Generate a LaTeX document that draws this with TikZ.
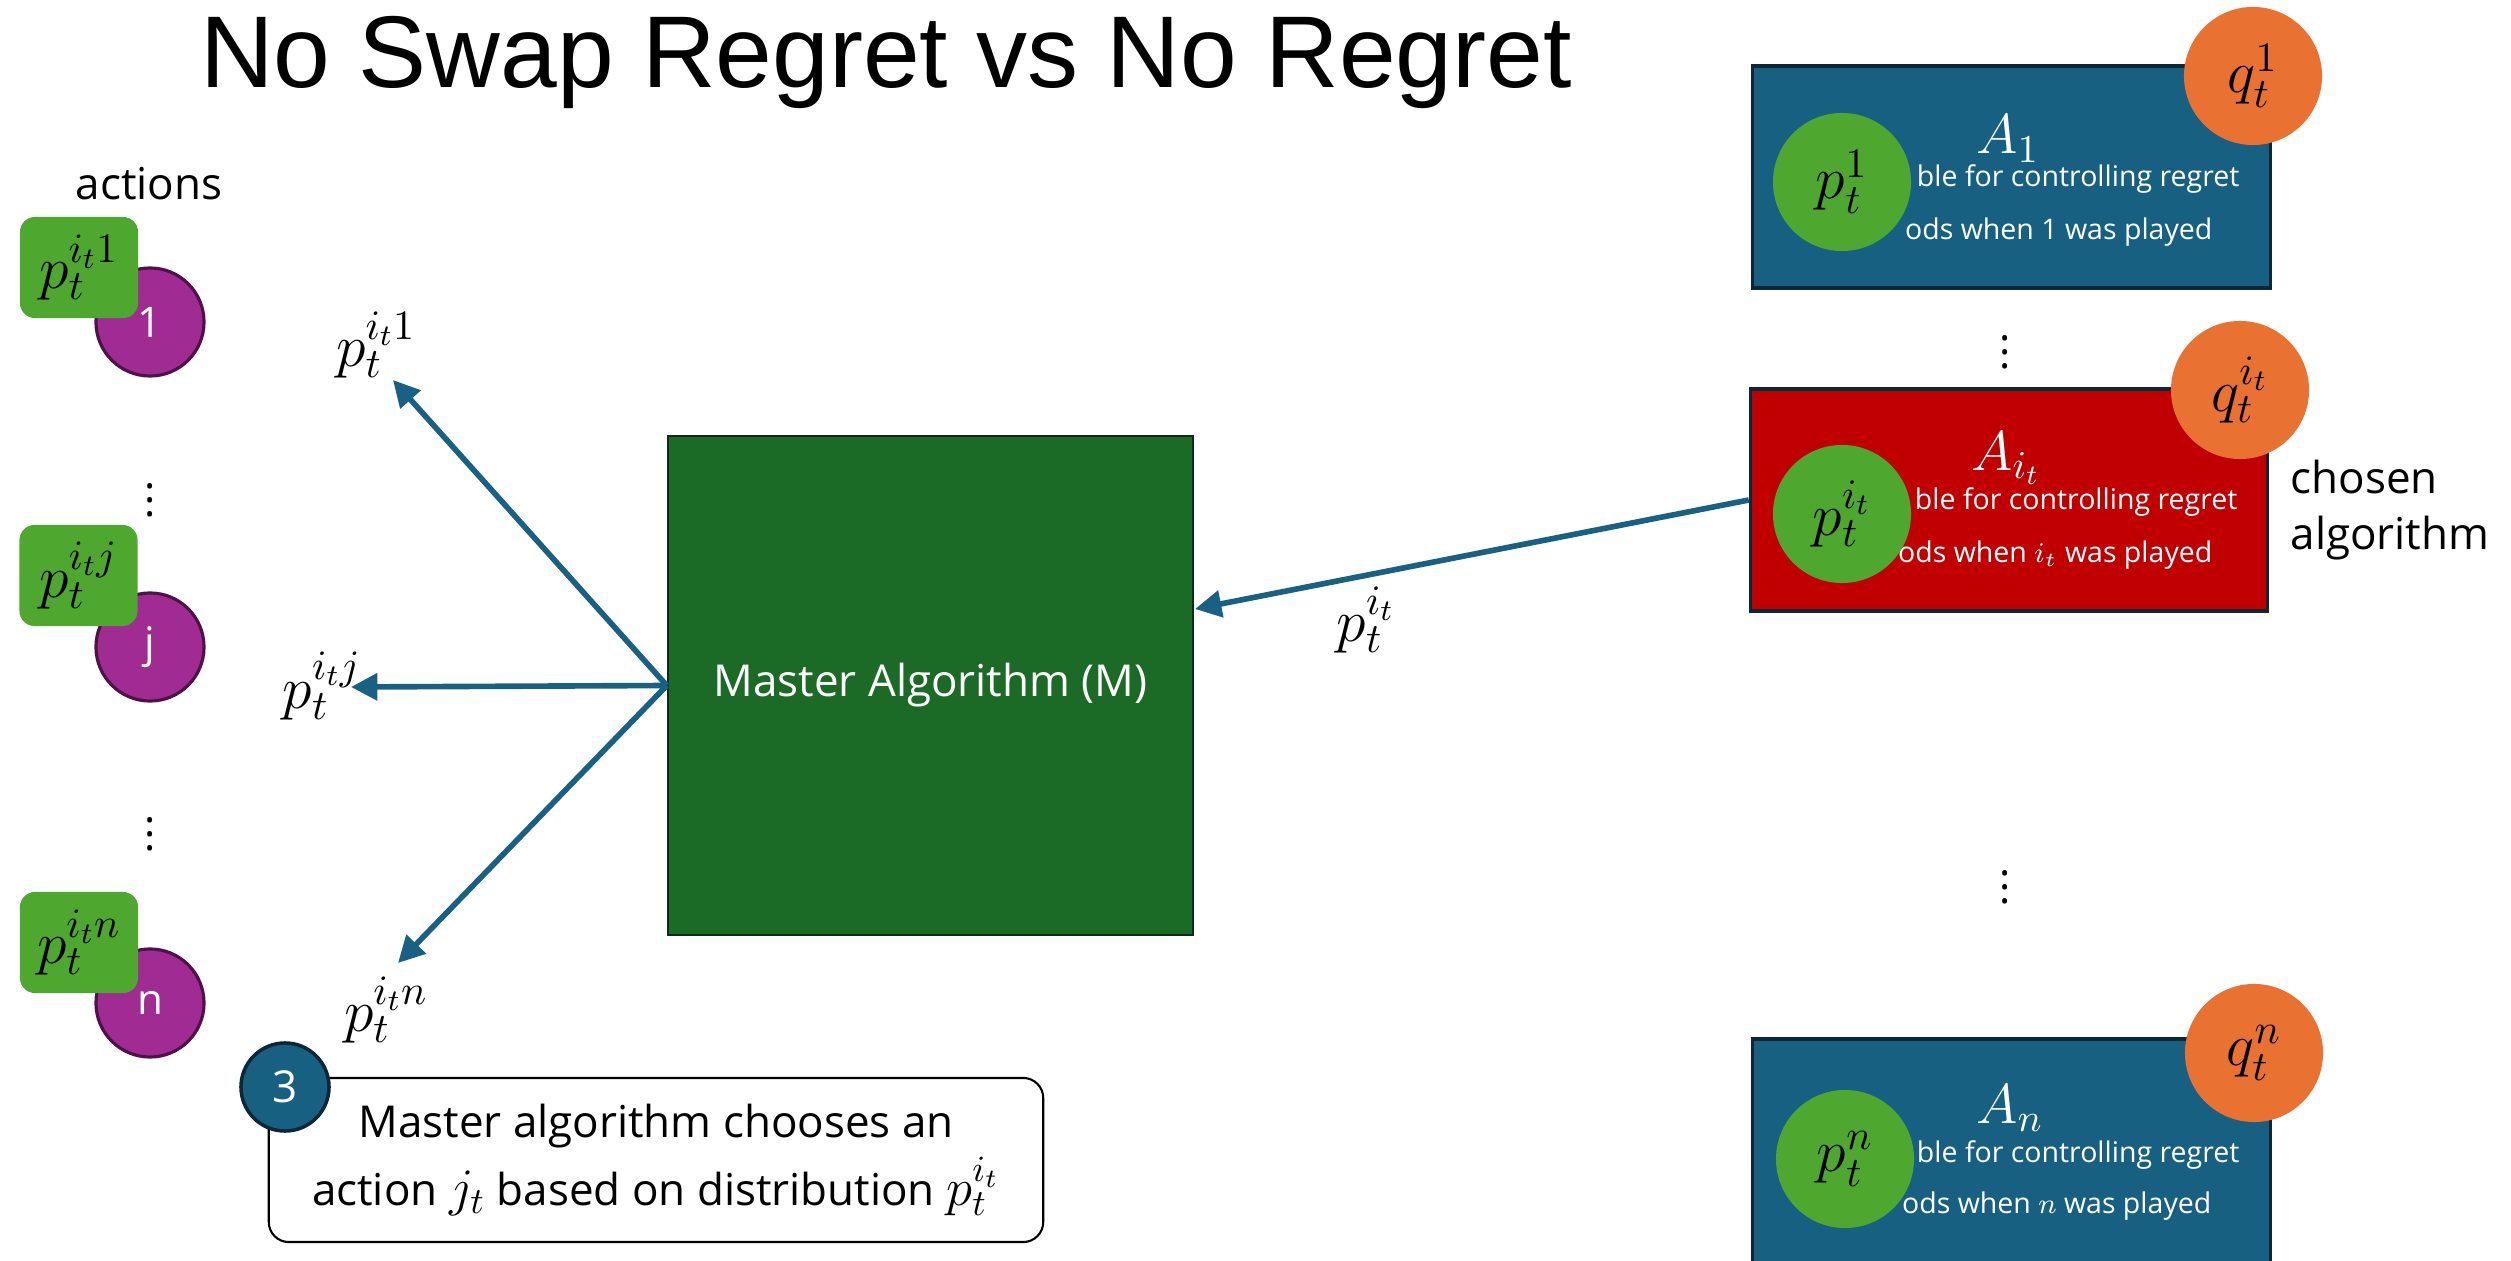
\RequirePackage{fix-cm}
\documentclass[tikz,border=0pt]{standalone}
\usepackage{fontspec}
\setmainfont{Open Sans}
\newfontfamily\titlefont{Liberation Sans}
\usetikzlibrary{arrows.meta}

\definecolor{algblue}{RGB}{23,96,130}
\definecolor{algedge}{RGB}{12,40,56}
\definecolor{algred}{RGB}{192,0,0}
\definecolor{mastergreen}{RGB}{27,106,38}
\definecolor{masteredge}{RGB}{14,42,30}
\definecolor{probgreen}{RGB}{78,167,46}
\definecolor{qorange}{RGB}{233,113,50}
\definecolor{actpurple}{RGB}{160,43,147}
\definecolor{actedge}{RGB}{78,18,72}
\definecolor{arrowblue}{RGB}{24,96,132}

% slightly larger math inside running text
\newcommand\bigmath[1]{{\fontsize{15}{19.3}\selectfont$#1$}}

\begin{document}
\begin{tikzpicture}[x=0.01cm, y=-0.01cm,
  body/.style={font=\fontsize{12.5}{15}\selectfont},
  action/.style={circle, fill=actpurple, draw=actedge, line width=0.9pt,
    minimum size=1.08cm, inner sep=0pt, text=white, font=\fontsize{12}{14}\selectfont},
  probtag/.style={rectangle, rounded corners=0.15cm, fill=probgreen,
    minimum width=1.18cm, minimum height=1.01cm, inner sep=0pt,
    font=\fontsize{17}{19}\selectfont},
  master/.style={rectangle, fill=mastergreen, draw=masteredge, line width=0.6pt,
    minimum width=5.25cm, minimum height=4.99cm, inner sep=0pt, text=white,
    font=\fontsize{12.5}{15}\selectfont},
  flow/.style={draw=arrowblue, line width=1.6pt, -{Triangle[length=7.5pt,width=7.5pt]}},
  lab/.style={inner sep=0pt, font=\fontsize{17}{19}\selectfont},
  algbox/.style={rectangle, draw=algedge, line width=0.9pt, minimum width=5.17cm,
    inner sep=0pt},
  boxtxt/.style={inner sep=0pt, text=white, font=\fontsize{8.1}{10}\selectfont},
  boxmath/.style={inner sep=0pt, text=white, font=\fontsize{16}{18}\selectfont},
  pcirc/.style={circle, fill=probgreen, minimum size=1.38cm, inner sep=0pt,
    font=\fontsize{17}{19}\selectfont},
  qcirc/.style={circle, fill=qorange, minimum size=1.38cm, inner sep=0pt,
    font=\fontsize{17}{19}\selectfont},
  vdots/.style={inner sep=0pt, font=\fontsize{12}{14}\selectfont},
  callout/.style={rectangle, rounded corners=0.2cm, draw=black, line width=0.6pt,
    fill=white, minimum width=7.74cm, minimum height=1.64cm, inner sep=0pt,
    align=center, font=\fontsize{12.5}{19.3}\selectfont},
  stepnum/.style={circle, fill=algblue, draw=algedge, line width=1pt,
    minimum size=0.88cm, inner sep=0pt, text=white, font=\fontsize{12.5}{15}\selectfont}
]
\useasboundingbox (0,0) rectangle (2511,1261);

% title
\node[anchor=base, inner sep=0pt, font=\titlefont\fontsize{29}{34}\selectfont]
  (title) at (886,88) {No Swap Regret vs No Regret};

% actions column
\node[body, anchor=base, inner sep=0pt] (actions) at (149,200) {actions};
\node[action] (a1) at (150,322) {1};
\node[action] (aj) at (150,647) {j};
\node[action] (an) at (150,1003) {n};
\node[probtag] (g1) at (79,267.5) {$p_t^{i_t1}$};
\node[probtag] (gj) at (78.5,575.5) {$p_t^{i_tj}$};
\node[probtag] (gn) at (79,942.5) {$p_t^{i_tn}$};
\node[vdots] (dl1) at (150,490) {$\vdots$};
\node[vdots] (dl2) at (150,824) {$\vdots$};

% master algorithm and its outgoing distributions
\node[master] (M) at (930.5,685.5) {Master Algorithm (M)};
\coordinate (tip1) at (393,380);
\coordinate (tipj) at (351,687);
\coordinate (tipn) at (398,963);
\draw[flow] (M.west) -- (tip1);
\draw[flow] (M.west) -- (tipj);
\draw[flow] (M.west) -- (tipn);
\node[lab] (l1) at (376,345) {$p_t^{i_t1}$};
\node[lab] (lj) at (322,686) {$p_t^{i_tj}$};
\node[lab] (ln) at (386,1010) {$p_t^{i_tn}$};

% per-action algorithms
\node[algbox, fill=algblue, minimum height=2.22cm] (A1) at (2011.5,177) {};
\node[algbox, fill=algred, minimum height=2.22cm] (Ait) at (2009,500) {};
\node[algbox, fill=algblue, minimum height=2.51cm] (An) at (2011.5,1164.5) {};

\node[boxmath] (A1n) at (2008,139) {$A_1$};
\node[boxtxt, anchor=base east] (A1a) at (2240,187) {ble for controlling regret};
\node[boxtxt, anchor=base east] (A1b) at (2213,240) {ods when 1 was played};

\node[boxmath] (Aitn) at (2006,458) {$A_{i_t}$};
\node[boxtxt, anchor=base east] (Aita) at (2238,510) {ble for controlling regret};
\node[boxtxt, anchor=base east] (Aitb) at (2213,563) {ods when $i_t$ was played};

\node[boxmath] (Ann) at (2010,1108) {$A_n$};
\node[boxtxt, anchor=base east] (Ana) at (2240,1162) {ble for controlling regret};
\node[boxtxt, anchor=base east] (Anb) at (2212,1213) {ods when $n$ was played};

\node[pcirc] (p1) at (1842,182) {$p_t^1$};
\node[pcirc] (pit) at (1842,514) {$p_t^{i_t}$};
\node[pcirc] (pn) at (1845,1159) {$p_t^n$};
\node[qcirc] (q1) at (2253,76) {$q_t^1$};
\node[qcirc] (qit) at (2240,390) {$q_t^{i_t}$};
\node[qcirc] (qn) at (2254,1053) {$q_t^n$};

\node[vdots] (dr1) at (2005,342) {$\vdots$};
\node[vdots] (dr2) at (2005,877) {$\vdots$};

\node[anchor=base west, inner sep=0pt, align=left, font=\fontsize{12.5}{16.2}\selectfont]
  (chosen) at (2290,550) {chosen\\algorithm};

% chosen algorithm feeds the master
\coordinate (tipM) at (1195,609);
\draw[flow] (Ait.west) -- (tipM);
\node[lab] (lM) at (1366,620) {$p_t^{i_t}$};

% step note
\node[callout] (note) at (656,1160)
  {Master algorithm chooses an\\action \bigmath{j_t} based on distribution \bigmath{p_t^{i_t}}};
\node[stepnum] (n3) at (285,1087) {3};
\end{tikzpicture}
\end{document}
